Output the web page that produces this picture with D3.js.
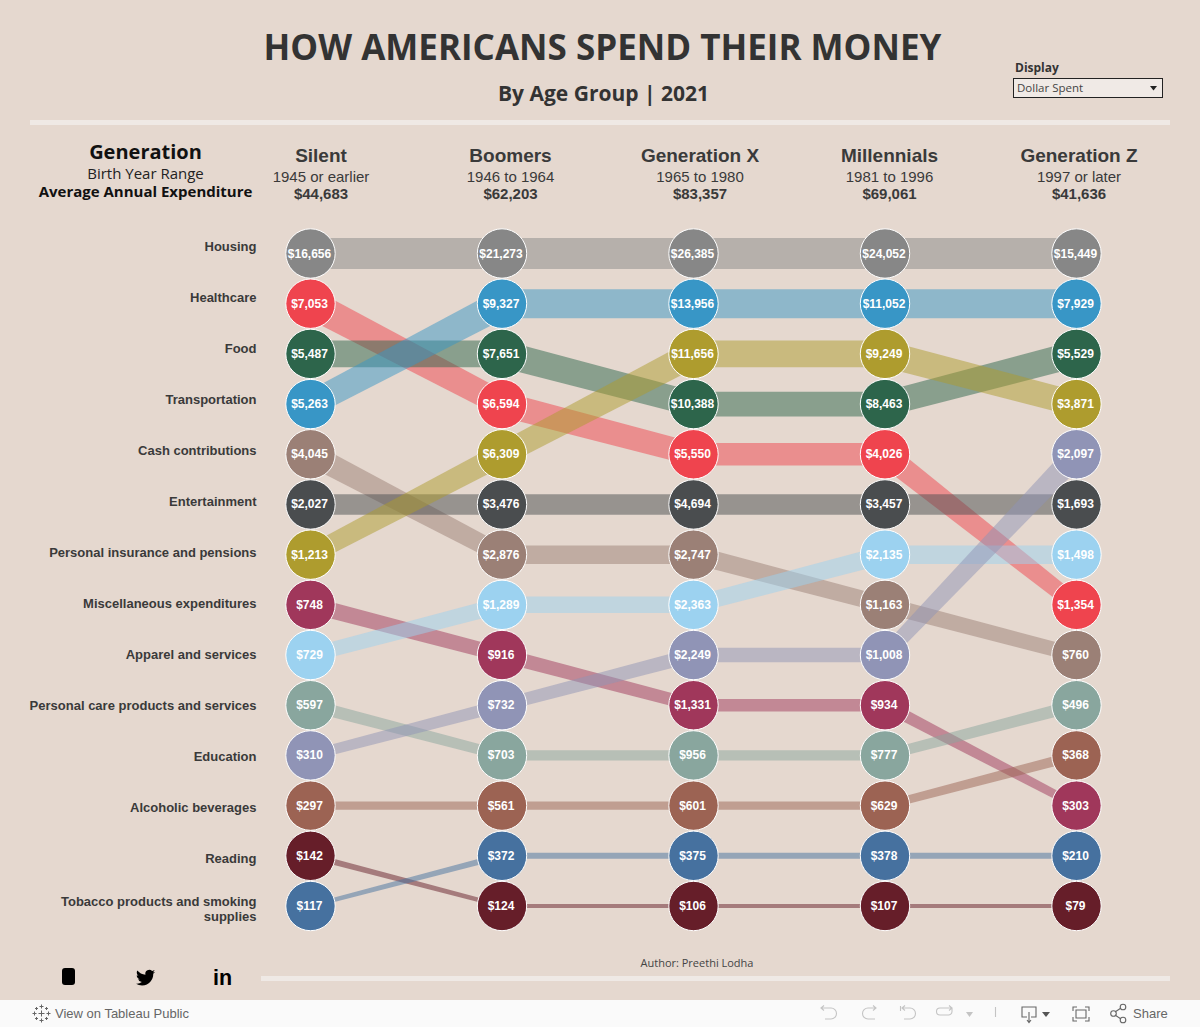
<!DOCTYPE html>
<html>
<head>
<meta charset="utf-8">
<script src="https://cdn.jsdelivr.net/npm/d3@7"></script>
<style>
  html, body { margin: 0; padding: 0; background: #e5d8cf; overflow: hidden; }
  svg { display: block; }
  text { font-family: "Liberation Sans", Arial, sans-serif; }
  .os { font-family: "Open Sans", sans-serif; }
</style>
</head>
<body>
<script>
// categories are listed in the order of the Silent column
var categories = ["Housing","Healthcare","Food","Transportation","Cash contributions","Entertainment",
  "Personal insurance and pensions","Miscellaneous expenditures","Apparel and services",
  "Personal care products and services","Education","Alcoholic beverages","Reading",
  "Tobacco products and smoking supplies"];

var generations = ["Silent","Boomers","Generation X","Millennials","Generation Z"];
var birthRanges = ["1945 or earlier","1946 to 1964","1965 to 1980","1981 to 1996","1997 or later"];
var avgExpenditure = [44683,62203,83357,69061,41636];

var silent      = [16656,7053,5487,5263,4045,2027,1213,748,729,597,310,297,142,117];
var boomers     = [21273,6594,7651,9327,2876,3476,6309,916,1289,703,732,561,124,372];
var genX        = [26385,5550,10388,13956,2747,4694,11656,1331,2363,956,2249,601,106,375];
var millennials = [24052,4026,8463,11052,1163,3457,9249,934,2135,777,1008,629,107,378];
var genZ        = [15449,1354,5529,7929,760,1693,3871,303,1498,496,2097,368,79,210];
var seriesValues = [silent,boomers,genX,millennials,genZ];

var categoryColors = ["#878787","#ef444e","#2d654b","#3896c6","#9b8076","#4a4d4f","#ae9c2e",
  "#a0375b","#9cd2f0","#89a69e","#9094b6","#9c6353","#661e29","#46719f"];

var width = 1200, height = 1027;
var bg = "#e5d8cf", ink = "#3a3a3a", rule = "#efe9e5";
var money = d3.format("$,");

var svg = d3.select("body").append("svg").attr("width", width).attr("height", height);
svg.append("rect").attr("width", width).attr("height", height).attr("fill", bg);

var x = d3.scalePoint().domain(generations).range([310.5, 1076.5]);
var headX = d3.scalePoint().domain(generations).range([321, 1079]);
var y = d3.scalePoint().domain(d3.range(categories.length)).range([253.5, 906]);
var labelY = d3.scalePoint().domain(categories).range([246, 909]);
var color = d3.scaleOrdinal().domain(categories).range(categoryColors);
// band width depends on the rank in that column, so slanted bands taper
var thick = d3.scaleLinear().domain([0, categories.length - 1]).range([31, 4]);

// rank of each category inside a generation
function ranksOf(vals) {
  var order = d3.range(vals.length).sort(function(a, b) { return vals[b] - vals[a]; });
  var r = [];
  order.forEach(function(idx, pos) { r[idx] = pos; });
  return r;
}
var ranks = seriesValues.map(ranksOf);

// ---- header
function txt(parent, xp, yp, s, size, opts) {
  opts = opts || {};
  return parent.append("text").attr("x", xp).attr("y", yp).text(s)
    .attr("font-size", size)
    .attr("font-weight", opts.weight || "normal")
    .attr("text-anchor", opts.anchor || "middle")
    .attr("fill", opts.fill || ink)
    .attr("class", opts.cls || null);
}

txt(svg, 602.5, 60, "HOW AMERICANS SPEND THEIR MONEY", 35, {weight: 700, cls: "os", fill: "#333"});
txt(svg, 603.5, 101, "By Age Group | 2021", 21, {weight: 700, cls: "os", fill: "#333"});

svg.append("rect").attr("x", 30).attr("y", 120).attr("width", 1140).attr("height", 5).attr("fill", rule);
svg.append("rect").attr("x", 261).attr("y", 976).attr("width", 909).attr("height", 5).attr("fill", rule);

txt(svg, 145.5, 159, "Generation", 20, {weight: 700, cls: "os", fill: "#111"});
txt(svg, 145.5, 179, "Birth Year Range", 15, {cls: "os", fill: "#222"});
txt(svg, 145.5, 197, "Average Annual Expenditure", 15, {weight: 700, cls: "os", fill: "#111"});

generations.forEach(function(g, i) {
  txt(svg, headX(g), 162, g, 19, {weight: 700});
  txt(svg, headX(g), 181.5, birthRanges[i], 15);
  txt(svg, headX(g), 199, money(avgExpenditure[i]), 15, {weight: 700});
});

// ---- display filter
txt(svg, 1015, 72, "Display", 12, {weight: 700, cls: "os", anchor: "start", fill: "#333"});
svg.append("rect").attr("x", 1013.5).attr("y", 78.5).attr("width", 149).attr("height", 19)
  .attr("fill", "#f0eae6").attr("stroke", "#222");
txt(svg, 1017, 92, "Dollar Spent", 11.5, {cls: "os", anchor: "start", fill: "#444"});
svg.append("path").attr("d", "M1150 86h7l-3.5 4.5z").attr("fill", "#222");

// ---- row labels
categories.forEach(function(c) {
  var t = svg.append("text").attr("text-anchor", "end").attr("font-size", 13).attr("font-weight", 700)
    .attr("fill", ink);
  var lines = c === "Tobacco products and smoking supplies"
    ? ["Tobacco products and smoking", "supplies"] : [c];
  var top = labelY(c) + 4.5 - (lines.length - 1) * 7.5;
  lines.forEach(function(l, i) {
    t.append("tspan").attr("x", 256.5).attr("y", top + i * 15).text(l);
  });
});

// ---- bands, one tapered quad per pair of columns
var quad = d3.line();
function bandPath(x0, y0, w0, x1, y1, w1) {
  var len = Math.hypot(x1 - x0, y1 - y0);
  var nx = -(y1 - y0) / len, ny = (x1 - x0) / len;
  return quad([
    [x0 + nx * w0 / 2, y0 + ny * w0 / 2],
    [x1 + nx * w1 / 2, y1 + ny * w1 / 2],
    [x1 - nx * w1 / 2, y1 - ny * w1 / 2],
    [x0 - nx * w0 / 2, y0 - ny * w0 / 2]
  ]) + "Z";
}

categories.forEach(function(c, ci) {
  d3.pairs(d3.range(generations.length)).forEach(function(p) {
    var a = p[0], b = p[1];
    svg.append("path")
      .attr("d", bandPath(
        x(generations[a]), y(ranks[a][ci]), thick(ranks[a][ci]),
        x(generations[b]), y(ranks[b][ci]), thick(ranks[b][ci])))
      .attr("fill", color(c))
      .attr("fill-opacity", 0.5);
  });
});

// ---- bubbles
generations.forEach(function(g, gi) {
  categories.forEach(function(c, ci) {
    var cy = y(ranks[gi][ci]);
    svg.append("circle").attr("cx", x(g)).attr("cy", cy).attr("r", 24.7)
      .attr("fill", color(c)).attr("stroke", "#fff").attr("stroke-width", 1);
    svg.append("text").attr("x", x(g) - 1).attr("y", cy + 4)
      .attr("text-anchor", "middle").attr("font-size", 12).attr("font-weight", 700)
      .attr("fill", "#fff").text(money(seriesValues[gi][ci]));
  });
});

txt(svg, 697, 967, "Author: Preethi Lodha", 11, {cls: "os", fill: "#444"});

// ---- social icons
svg.append("rect").attr("x", 62).attr("y", 968).attr("width", 13).attr("height", 17).attr("rx", 3).attr("fill", "#000");
svg.append("path")
  .attr("transform", "translate(136,968) scale(0.8)")
  .attr("d", "M23.953 4.57a10 10 0 01-2.825.775 4.958 4.958 0 002.163-2.723c-.951.555-2.005.959-3.127 1.184a4.92 4.92 0 00-8.384 4.482C7.69 8.095 4.067 6.13 1.64 3.162a4.822 4.822 0 00-.666 2.475c0 1.71.87 3.213 2.188 4.096a4.904 4.904 0 01-2.228-.616v.06a4.923 4.923 0 003.946 4.827 4.996 4.996 0 01-2.212.085 4.936 4.936 0 004.604 3.417 9.867 9.867 0 01-6.102 2.105c-.39 0-.779-.023-1.17-.067a13.995 13.995 0 007.557 2.209c9.053 0 13.998-7.496 13.998-13.985 0-.21 0-.42-.015-.63A9.935 9.935 0 0024 4.59z");
txt(svg, 222.5, 985, "in", 21.5, {weight: 700, fill: "#000"});

// ---- tableau toolbar
var bar = svg.append("g");
bar.append("rect").attr("x", 0).attr("y", 1000).attr("width", width).attr("height", 27).attr("fill", "#fafafa");
txt(bar, 55, 1018, "View on Tableau Public", 13, {anchor: "start", fill: "#666"});
txt(bar, 1133, 1018, "Share", 13, {anchor: "start", fill: "#666"});

// tableau logo, little crosses
var crosses = [[41.5,1006.5,2],[41.5,1020.5,2],[34.5,1013.5,2],[48.5,1013.5,2],[36.5,1008.5,1.5],[46.5,1008.5,1.5],[36.5,1018.5,1.5],[46.5,1018.5,1.5],[41.5,1013.5,3]];
bar.selectAll("path.cross").data(crosses).join("path").attr("class", "cross")
  .attr("d", function(d) {
    return "M" + (d[0] - d[2]) + " " + d[1] + "h" + (2 * d[2]) + "M" + d[0] + " " + (d[1] - d[2]) + "v" + (2 * d[2]);
  })
  .attr("stroke", "#666").attr("stroke-width", 1).attr("fill", "none");

var lightIcon = "#c4c4c4", darkIcon = "#666";
function icon(d, col, fill) {
  bar.append("path").attr("d", d).attr("fill", fill || "none").attr("stroke", fill ? "none" : col).attr("stroke-width", 1.1);
}
icon("M821 1008h10a4.5 4.5 0 0 1 0 11h-6M824 1005.5l-3 2.5 3 2.5", lightIcon);
icon("M876 1008h-8a5.500 5.500 0 0 0 0 11h7M873 1005.500l3 2.500-3 2.500", lightIcon);
icon("M902 1008h8a5 5 0 0 1 0 11h-6M905 1005.500l-3 2.500 3 2.500M900.500 1006v5", lightIcon);
icon("M952 1008h-12a3.500 3.500 0 0 0 0 7h8a3.500 3.500 0 0 0 4-3.500v-3.500M949 1005.500l3 2.500-3 2.500", lightIcon);
icon("M966 1012h7l-3.500 5z", null, lightIcon);
icon("M995.500 1007v10", lightIcon);
icon("M1027 1017h-5v-10h14v10h-5M1029 1012v10M1027 1020l2 2.500 2-2.500", darkIcon);
icon("M1042 1012h8l-4 5z", null, "#555");
icon("M1073 1011v-4h4M1085 1007h4v4M1089 1017v4h-4M1077 1021h-4v-4M1076 1010h10v8h-10z", darkIcon);
icon("M1115 1012l6-4M1115 1015l6 4", darkIcon);
[[1113.500,1013.500],[1123,1007],[1123,1020]].forEach(function(p) {
  bar.append("circle").attr("cx", p[0]).attr("cy", p[1]).attr("r", 2.8).attr("fill", "none").attr("stroke", darkIcon).attr("stroke-width", 1.1);
});
</script>
</body>
</html>
